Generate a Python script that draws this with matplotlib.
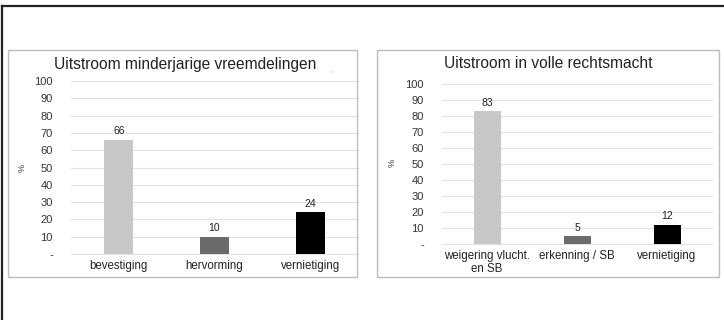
import matplotlib
matplotlib.use("Agg")
from matplotlib import pyplot as plt
from matplotlib.patches import Rectangle
from matplotlib.lines import Line2D

plt.rcParams['font.family'] = ['Liberation Sans', 'DejaVu Sans']

# linker grafiek
titel_links = "Uitstroom minderjarige vreemdelingen"
cat_links = ["bevestiging", "hervorming", "vernietiging"]
val_links = [66, 10, 24]

# rechter grafiek
titel_rechts = "Uitstroom in volle rechtsmacht"
cat_rechts = ["weigering vlucht.\nen SB", "erkenning / SB", "vernietiging"]
val_rechts = [83, 5, 12]

kleuren = ["#c8c8c8", "#6b6b6b", "#000000"]
yticks = list(range(0, 101, 10))
ylabels = ["-"] + [str(t) for t in yticks[1:]]

W, H = 724, 320
fig = plt.figure(figsize=(W / 100, H / 100), dpi=100)


def px(x0, y0, x1, y1):
    # pixelcoordinaten (van boven) naar figuurcoordinaten
    return [x0 / W, 1 - y1 / H, (x1 - x0) / W, (y1 - y0) / H]


# buitenrand (alleen boven en links)
fig.add_artist(Line2D([2 / W, 2 / W], [0, 1 - 6 / H], color="#222222", lw=1.6))
fig.add_artist(Line2D([2 / W, 1], [1 - 6 / H, 1 - 6 / H], color="#222222", lw=1.6))

# kaders rond de grafieken
for x0, x1 in [(8, 357), (377, 719)]:
    r = px(x0, 50, x1, 277)
    fig.add_artist(Rectangle((r[0], r[1]), r[2], r[3], transform=fig.transFigure,
                             fill=False, edgecolor="#bdbdbd", lw=1.0))


def grafiek(pos, titel, cats, vals, titel_x, titel_y, pct_x, pct_y):
    ax = fig.add_axes(px(*pos))
    x = range(len(cats))
    ax.bar(x, vals, width=0.3, color=kleuren, zorder=3)
    for xi, v in zip(x, vals):
        ax.annotate(str(v), (xi, v), xytext=(0, 2.5), textcoords="offset points",
                    ha="center", va="bottom", fontsize=7.5, color="#222222")
    ax.set_xlim(-0.5, len(cats) - 0.5)
    ax.set_ylim(0, 100)
    ax.set_yticks(yticks)
    ax.set_yticklabels(ylabels, fontsize=8, color="#333333")
    ax.set_xticks(list(x))
    ax.set_xticklabels(cats, fontsize=8.3, color="#222222", linespacing=1.2)
    ax.tick_params(length=0)
    ax.tick_params(axis="y", pad=13)
    ax.tick_params(axis="x", pad=4)
    ax.yaxis.grid(True, color="#e3e3e3", lw=0.8, zorder=0)
    for g in ax.get_ygridlines():
        g.set_clip_on(False)
    for s in ax.spines.values():
        s.set_visible(False)
    ax.axhline(0, color="#d9d9d9", lw=0.8, zorder=2)
    fig.text(titel_x / W, 1 - titel_y / H, titel, ha="center", va="center",
             fontsize=11.2, color="#222222")
    fig.text(pct_x / W, 1 - pct_y / H, "%", rotation=90, ha="center",
             va="center", fontsize=6.5, color="#333333")
    return ax


grafiek((71, 81, 358, 254), titel_links, cat_links, val_links, 185, 65, 22, 168)
grafiek((442, 84, 712, 244), titel_rechts, cat_rechts, val_rechts, 548, 64, 392, 163)
fig.text(330 / W, 1 - 72 / H, ",", fontsize=5, color="#888888", ha="center")

fig.savefig("out.png", dpi=100)
